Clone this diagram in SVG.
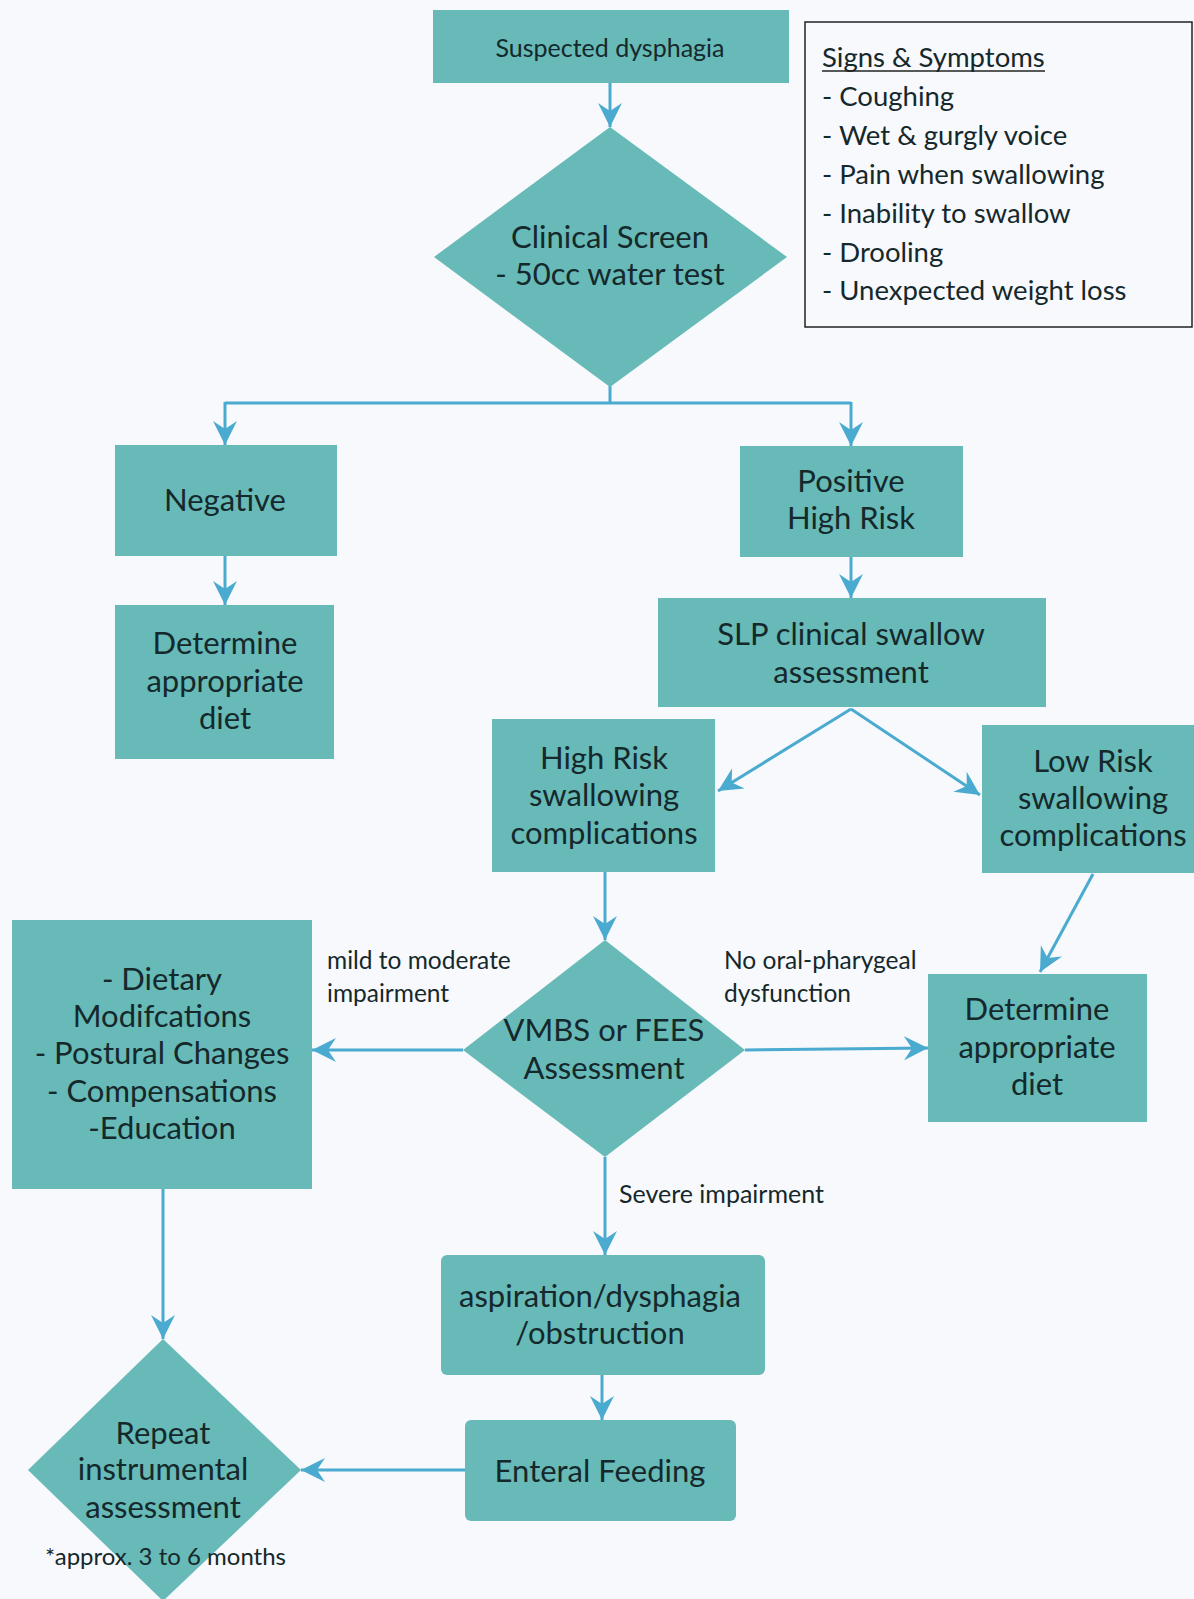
<svg xmlns="http://www.w3.org/2000/svg" width="1194" height="1599" viewBox="0 0 1194 1599">
<defs>
<marker id="ah" viewBox="0 0 24 26" refX="24" refY="13" markerWidth="24" markerHeight="26" markerUnits="userSpaceOnUse" orient="auto">
<path d="M0,1 L24,13 L0,25 L8,13 z" fill="#4AAAD0"/>
</marker>
<style>
.n{fill:#67BAB7}
.t{font-family:Lato,"Open Sans",sans-serif;font-size:31px;fill:#15282B;text-anchor:middle}
.s{font-family:Lato,"Open Sans",sans-serif;font-size:24.5px;fill:#15282B}
.g{font-size:27.5px}
.c{fill:none;stroke:#4AAAD0;stroke-width:3;marker-end:url(#ah)}
.cn{fill:none;stroke:#4AAAD0;stroke-width:3}
</style>
</defs>
<rect width="1194" height="1599" fill="#F7F9FC"/>
<g id="connectors">
<path class="c" d="M610,83 V127"/>
<path class="cn" d="M610,386 V403 M225,403 H851"/>
<path class="c" d="M225,402 V445"/>
<path class="c" d="M851,402 V446"/>
<path class="c" d="M225,556 V605"/>
<path class="c" d="M851,557 V598"/>
<path class="c" d="M851,709 L718,791"/>
<path class="c" d="M851,709 L980,795"/>
<path class="c" d="M605,872 V940"/>
<path class="c" d="M1093,874 L1040,972"/>
<path class="c" d="M463,1050 H312"/>
<path class="c" d="M745,1050 L928,1048"/>
<path class="c" d="M605,1157 V1255"/>
<path class="c" d="M163,1189 V1339"/>
<path class="c" d="M602,1375 V1420"/>
<path class="c" d="M465,1470 H301"/>
</g>
<g id="suspected">
<rect class="n" x="433" y="10" width="356" height="73"/>
<text class="t" style="font-size:25px" x="610" y="57">Suspected dysphagia</text>
</g>
<g id="clinical">
<polygon class="n" points="610,127 787,257 610,387 434,257"/>
<text class="t" x="610" y="248">Clinical Screen</text>
<text class="t" x="610" y="285">- 50cc water test</text>
</g>
<g id="signs">
<rect x="805" y="22" width="387" height="305" fill="none" stroke="#222" stroke-width="1.5"/>
<text class="s g" x="822" y="67">Signs &amp; Symptoms</text>
<line x1="822" y1="71" x2="1045" y2="71" stroke="#222" stroke-width="1.3"/>
<text class="s g" x="822" y="106">- Coughing</text>
<text class="s g" x="822" y="145">- Wet &amp; gurgly voice</text>
<text class="s g" x="822" y="184">- Pain when swallowing</text>
<text class="s g" x="822" y="223">- Inability to swallow</text>
<text class="s g" x="822" y="262">- Drooling</text>
<text class="s g" x="822" y="300">- Unexpected weight loss</text>
</g>
<g id="negative">
<rect class="n" x="115" y="445" width="222" height="111"/>
<text class="t" x="225" y="511">Negative</text>
</g>
<g id="diet-left">
<rect class="n" x="115" y="605" width="219" height="154"/>
<text class="t" x="225" y="654">Determine</text>
<text class="t" x="225" y="692">appropriate</text>
<text class="t" x="225" y="729">diet</text>
</g>
<g id="positive">
<rect class="n" x="740" y="446" width="223" height="111"/>
<text class="t" x="851" y="492">Positive</text>
<text class="t" x="851" y="529">High Risk</text>
</g>
<g id="slp">
<rect class="n" x="658" y="598" width="388" height="109"/>
<text class="t" x="851" y="645">SLP clinical swallow</text>
<text class="t" x="851" y="683">assessment</text>
</g>
<g id="high-risk">
<rect class="n" x="492" y="719" width="223" height="153"/>
<text class="t" x="604" y="769">High Risk</text>
<text class="t" x="604" y="806">swallowing</text>
<text class="t" x="604" y="844">complications</text>
</g>
<g id="low-risk">
<rect class="n" x="982" y="725" width="212" height="148"/>
<text class="t" x="1093" y="772">Low Risk</text>
<text class="t" x="1093" y="809">swallowing</text>
<text class="t" x="1093" y="846">complications</text>
</g>
<g id="diet-mods">
<rect class="n" x="12" y="920" width="300" height="269"/>
<text class="t" x="162" y="990">- Dietary</text>
<text class="t" x="162" y="1027">Modifcations</text>
<text class="t" x="162" y="1064">- Postural Changes</text>
<text class="t" x="162" y="1102">- Compensations</text>
<text class="t" x="162" y="1139">-Education</text>
</g>
<g id="vmbs">
<polygon class="n" points="605,940 745,1050 605,1157 463,1050"/>
<text class="t" x="604" y="1041">VMBS or FEES</text>
<text class="t" x="604" y="1079">Assessment</text>
</g>
<g id="diet-right">
<rect class="n" x="928" y="974" width="219" height="148"/>
<text class="t" x="1037" y="1020">Determine</text>
<text class="t" x="1037" y="1058">appropriate</text>
<text class="t" x="1037" y="1095">diet</text>
</g>
<g id="aspiration">
<rect class="n" x="441" y="1255" width="324" height="120" rx="6"/>
<text class="t" x="600" y="1307">aspiration/dysphagia</text>
<text class="t" x="600" y="1344">/obstruction</text>
</g>
<g id="enteral">
<rect class="n" x="465" y="1420" width="271" height="101" rx="6"/>
<text class="t" x="600" y="1482">Enteral Feeding</text>
</g>
<g id="repeat">
<polygon class="n" points="163,1339 301,1470 163,1601 28,1470"/>
<text class="t" x="163" y="1444">Repeat</text>
<text class="t" x="163" y="1480">instrumental</text>
<text class="t" x="163" y="1518">assessment</text>
<text class="s" style="font-size:24px" x="45" y="1565">*approx. 3 to 6 months</text>
</g>
<g id="labels">
<text class="s" x="327" y="969">mild to moderate</text>
<text class="s" x="327" y="1002">impairment</text>
<text class="s" x="724" y="969">No oral-pharygeal</text>
<text class="s" x="724" y="1002">dysfunction</text>
<text class="s" style="font-size:25px" x="619" y="1203">Severe impairment</text>
</g>
</svg>
